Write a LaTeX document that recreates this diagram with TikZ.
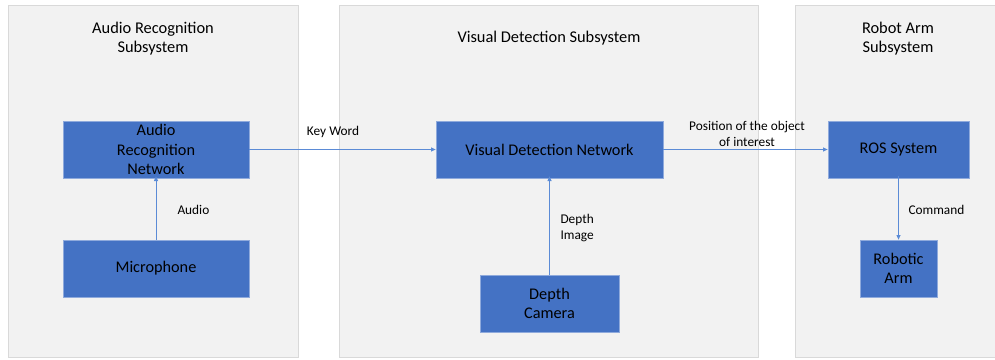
\documentclass[tikz,border=0pt]{standalone}
\usepackage{fontspec}
\setmainfont{Carlito}
\usepackage{tikz}
\usetikzlibrary{
  arrows.meta,
  positioning
}
\tikzset{every picture/.style={line width=0.75pt}}
\definecolor{panelgray}{RGB}{242,242,242}
\definecolor{paneledge}{RGB}{217,217,217}
\definecolor{boxblue}{RGB}{68,114,196}
\definecolor{boxedge}{RGB}{143,170,220}
\definecolor{linkblue}{RGB}{91,139,214}
\tikzset{
  panel/.style={fill=panelgray, draw=paneledge, line width=0.5pt},
  blockbox/.style={fill=boxblue, draw=boxedge, line width=0.5pt, inner sep=0pt,
    align=center, font=\fontsize{12.2}{14.6}\selectfont, text=black},
  paneltitle/.style={align=center, inner sep=0.75pt, font=\fontsize{12.3}{14.3}\selectfont},
  linklabel/.style={inner sep=0.75pt, font=\fontsize{10}{12}\selectfont},
  link/.style={draw=linkblue, line width=0.6pt, -{Triangle[length=3.5pt,width=3pt]}}
}

\begin{document}
\begin{tikzpicture}[x=0.75pt,y=0.75pt,yscale=-1,xscale=1]
\useasboundingbox (0,0) rectangle (995,360);

%Shape: Rectangle [panels]
\draw [panel] (8,5) rectangle (298,357);
\draw [panel] (339,5) rectangle (758,357);
\draw [panel] (795,5) rectangle (1000,357);

% Text Node
\node [paneltitle] (audiotitle) at (153,38.5) {Audio Recognition\\Subsystem};
% Text Node
\node [paneltitle] (visualtitle) at (549,38.5) {Visual Detection Subsystem};
% Text Node
\node [paneltitle] (robottitle) at (898,38.5) {Robot Arm\\Subsystem};

%Shape: Rectangle [blocks]
\node [blockbox, minimum width=139.5pt, minimum height=42.75pt] (arn) at (156,149.5) {Audio\\Recognition\\Network};
\node [blockbox, minimum width=139.5pt, minimum height=42.75pt] (mic) at (156,268.5) {Microphone};
\node [blockbox, minimum width=170.25pt, minimum height=42.75pt] (vdn) at (549.5,149.5) {Visual Detection Network};
\node [blockbox, minimum width=104.25pt, minimum height=42.75pt] (cam) at (549.5,303.5) {Depth\\Camera};
\node [blockbox, minimum width=105.75pt, minimum height=42.75pt] (ros) at (898.5,149.5) {ROS System};
\node [blockbox, minimum width=57.75pt, minimum height=42.75pt] (arm) at (898.5,268.5) {Robotic\\Arm};

%Straight Lines [links]
\draw [link] (mic.north) -- ([yshift=-1.5pt]arn.south);
\draw [link] (arn.east) -- (vdn.west);
\draw [link] (cam.north) -- ([yshift=-1.5pt]vdn.south);
\draw [link] (vdn.east) -- (ros.west);
\draw [link] ([yshift=-1.5pt]ros.south) -- (arm.north);

% Text Node
\node [linklabel, anchor=west] (audiolabel) at (176,210) {Audio};
% Text Node
\node [linklabel] (keylabel) at (333,132) {Key Word};
% Text Node
\node [linklabel, anchor=west, align=left] (depthlabel) at (559,228) {Depth\\Image};
% Text Node
\node [linklabel, align=center] (poslabel) at (747,134) {Position of the object\\of interest};
% Text Node
\node [linklabel, anchor=west] (cmdlabel) at (907,210) {Command};

\end{tikzpicture}
\end{document}
